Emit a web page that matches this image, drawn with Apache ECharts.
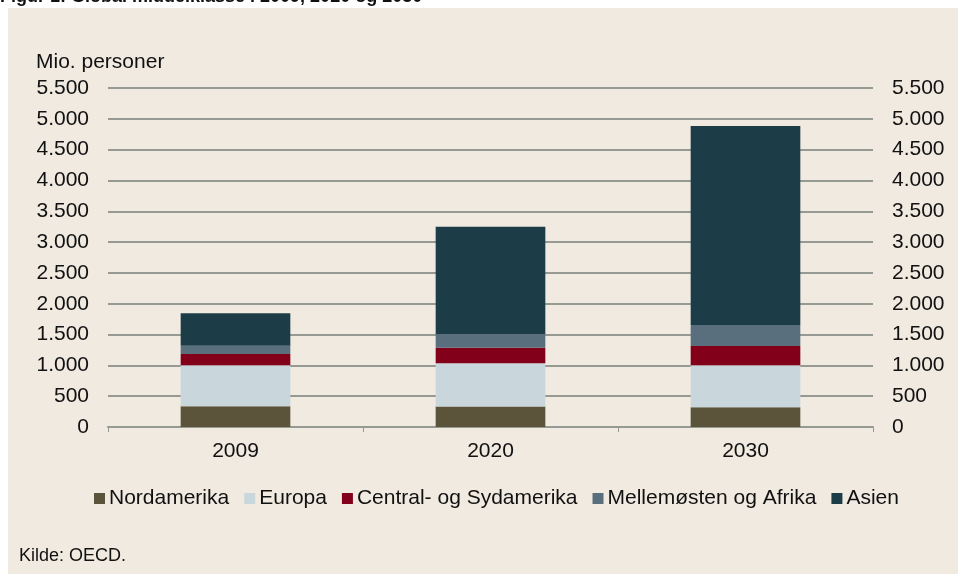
<!DOCTYPE html>
<html>
<head>
<meta charset="utf-8">
<script src="https://cdn.jsdelivr.net/npm/echarts@6/dist/echarts.min.js"></script>
<style>
  html, body { margin: 0; padding: 0; background: #ffffff; }
  #chart { width: 958px; height: 574px; }
</style>
</head>
<body>
<div id="chart"></div>
<script>
// Mio. personer i middelklassen, OECD
const years = ['2009', '2020', '2030']
const nordamerika = [338, 333, 322]
const europa = [664, 703, 680]
const centralSyd = [181, 251, 313]
const mellemostenAfrika = [137, 222, 341]
const asien = [525, 1740, 3228]

const seriesNames = ['Nordamerika', 'Europa', 'Central- og Sydamerika', 'Mellemøsten og Afrika', 'Asien']
const seriesData = [nordamerika, europa, centralSyd, mellemostenAfrika, asien]
const colors = ['#5c533b', '#c9d6dc', '#83001a', '#5a6f7d', '#1c3c47']

const font = 'Liberation Sans, Arial, sans-serif'
const gridColor = '#979993'

const fmt = (v) => String(v).replace(/\B(?=(\d{3})+(?!\d))/g, '.')

const valueAxis = (pos) => ({
  type: 'value',
  position: pos,
  min: 0,
  max: 5500,
  interval: 500,
  axisLine: { show: false },
  axisTick: { show: false },
  splitLine: { show: pos === 'left', lineStyle: { color: gridColor, width: 2 } },
  axisLabel: { color: '#111', fontSize: 21, fontFamily: font, margin: 19, formatter: fmt }
})

const chart = echarts.init(document.getElementById('chart'))

chart.setOption({
  backgroundColor: '#ffffff',
  animation: false,
  graphic: [
    { type: 'rect', z: 0, shape: { x: 8, y: 8, width: 950, height: 566 }, style: { fill: '#f0eae0' } },
    {
      type: 'text', z: 1, x: 0, y: -3,
      style: { text: 'Figur 1: Global middelklasse i 2009, 2020 og 2030', fill: '#111', font: 'bold 18px ' + font, verticalAlign: 'middle' }
    },
    {
      type: 'text', z: 1, x: 36, y: 62,
      style: { text: 'Mio. personer', fill: '#111', font: '21px ' + font, verticalAlign: 'middle' }
    },
    {
      type: 'text', z: 1, x: 19, y: 556,
      style: { text: 'Kilde: OECD.', fill: '#111', font: '18px ' + font, verticalAlign: 'middle' }
    }
  ],
  legend: {
    data: seriesNames,
    top: 483,
    left: 89,
    itemWidth: 11,
    itemHeight: 11,
    itemGap: 15,
    icon: 'rect',
    textStyle: { color: '#111', fontSize: 21, fontFamily: font, padding: [0, 0, 0, -1] }
  },
  grid: { left: 108, right: 85, top: 88, bottom: 147, containLabel: false },
  xAxis: {
    type: 'category',
    data: years,
    axisLine: { lineStyle: { color: gridColor, width: 2 } },
    axisTick: { show: true, length: 5, lineStyle: { color: gridColor } },
    axisLabel: { color: '#111', fontSize: 21, fontFamily: font, margin: 14 }
  },
  yAxis: [valueAxis('left'), valueAxis('right')],
  series: seriesNames.map((name, i) => ({
    name,
    type: 'bar',
    stack: 'total',
    barWidth: '43%',
    data: seriesData[i],
    itemStyle: { color: colors[i] }
  }))
})
</script>
</body>
</html>
